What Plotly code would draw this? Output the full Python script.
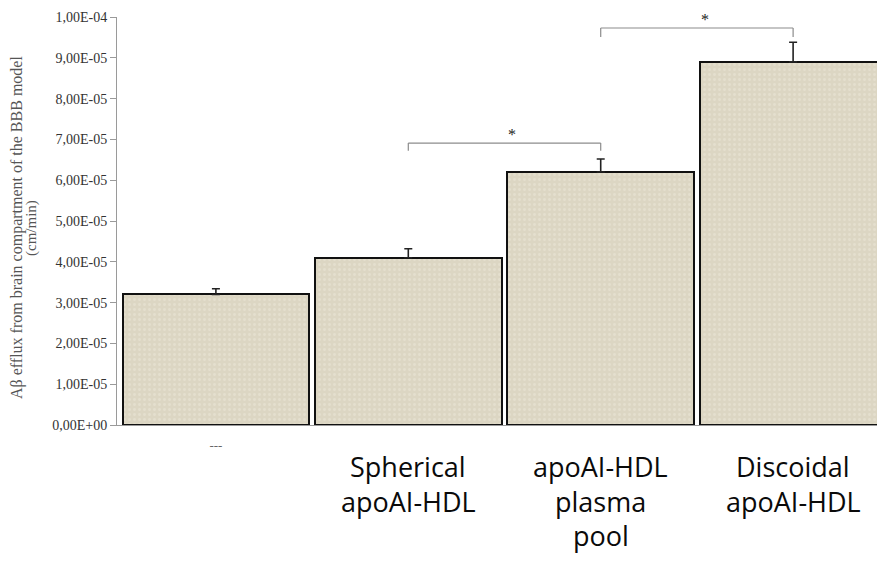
import plotly.graph_objects as go

# Mean A-beta efflux per condition (cm/min) and upper error (SD)
categories = ["---", "Spherical\napoAI-HDL", "apoAI-HDL\nplasma\npool", "Discoidal\napoAI-HDL"]
values = [3.2e-5, 4.1e-5, 6.2e-5, 8.9e-5]
errors = [0.14e-5, 0.22e-5, 0.32e-5, 0.48e-5]

# Significance brackets: (left bar index, right bar index, bracket level, drop level)
sig_pairs = [(1, 2, 6.91e-5, 6.72e-5), (2, 3, 9.73e-5, 9.51e-5)]
sig_label = "*"

y_ticks = [i * 1e-5 for i in range(11)]
y_ticktext = [f"{v:.2E}".replace(".", ",") for v in y_ticks]

x_pos = list(range(len(categories)))

fig = go.Figure()
fig.add_trace(go.Bar(
    x=x_pos,
    y=values,
    width=0.97,
    marker=dict(
        color="#dcd6c3",
        line=dict(color="#111111", width=2),
        pattern=dict(shape=".", fgcolor="#ebe7da", bgcolor="#dcd6c3", size=5, solidity=0.25),
    ),
    error_y=dict(type="data", array=errors, arrayminus=[0] * len(errors), symmetric=False,
                 color="#222222", thickness=1.6, width=4),
    showlegend=False,
))

axis_grey = "#9a9a9a"
serif = "Liberation Serif, Times New Roman, serif"

# Brackets with stars
for a, b, lvl, drop in sig_pairs:
    fig.add_shape(type="line", x0=a, x1=b, y0=lvl, y1=lvl, line=dict(color="#8c8c8c", width=1.2))
    fig.add_shape(type="line", x0=a, x1=a, y0=drop, y1=lvl, line=dict(color="#8c8c8c", width=1.2))
    fig.add_shape(type="line", x0=b, x1=b, y0=drop, y1=lvl, line=dict(color="#8c8c8c", width=1.2))
    fig.add_annotation(x=(a + b) / 2 + 0.04, y=lvl, yshift=9, text=sig_label, showarrow=False,
                       font=dict(family=serif, size=16, color="#222222"))

# Large category labels below the bars, one annotation per line
plot_top, plot_bottom = 17, 425
line_pixels = [466, 501, 535, 570]
for i, cat in enumerate(categories):
    if i == 0:
        continue
    for j, line in enumerate(cat.split("\n")):
        ypaper = (plot_bottom - line_pixels[j]) / (plot_bottom - plot_top)
        fig.add_annotation(x=i, y=ypaper, xref="x", yref="paper", text=line, showarrow=False,
                           yanchor="middle", xanchor="center",
                           font=dict(family="Open Sans, Noto Sans, sans-serif", size=27, color="#0a0a0a"))

# Y axis title, two lines
title_y = (plot_bottom - 228) / (plot_bottom - plot_top)
fig.add_annotation(x=-100 / 760, y=title_y, xref="paper", yref="paper", xanchor="center", yanchor="middle",
                   text="A\u03b2 efflux from brain compartment of the BBB model", textangle=-90,
                   showarrow=False, font=dict(family=serif, size=16, color="#555555"))
fig.add_annotation(x=-85 / 760, y=title_y, xref="paper", yref="paper", xanchor="center", yanchor="middle",
                   text="(cm/min)", textangle=-90,
                   showarrow=False, font=dict(family=serif, size=15, color="#555555"))

fig.update_layout(
    width=877, height=573,
    margin=dict(l=117, r=0, t=17, b=148),
    plot_bgcolor="white", paper_bgcolor="white",
    bargap=0,
    xaxis=dict(
        range=[-0.514, 3.436],
        tickmode="array", tickvals=x_pos, ticktext=[categories[0], "", "", ""],
        tickfont=dict(family=serif, size=13, color="#666666"),
        ticklabelstandoff=8,
        showline=True, linecolor=axis_grey, linewidth=1,
        ticks="", showgrid=False, zeroline=False,
    ),
    yaxis=dict(
        range=[0, 1e-4],
        tickmode="array", tickvals=y_ticks, ticktext=y_ticktext,
        tickfont=dict(family=serif, size=14, color="#333333"),
        showline=True, linecolor=axis_grey, linewidth=1,
        ticks="outside", ticklen=6, tickcolor=axis_grey,
        showgrid=False, zeroline=False,
    ),
)

fig.write_html("out.html")
